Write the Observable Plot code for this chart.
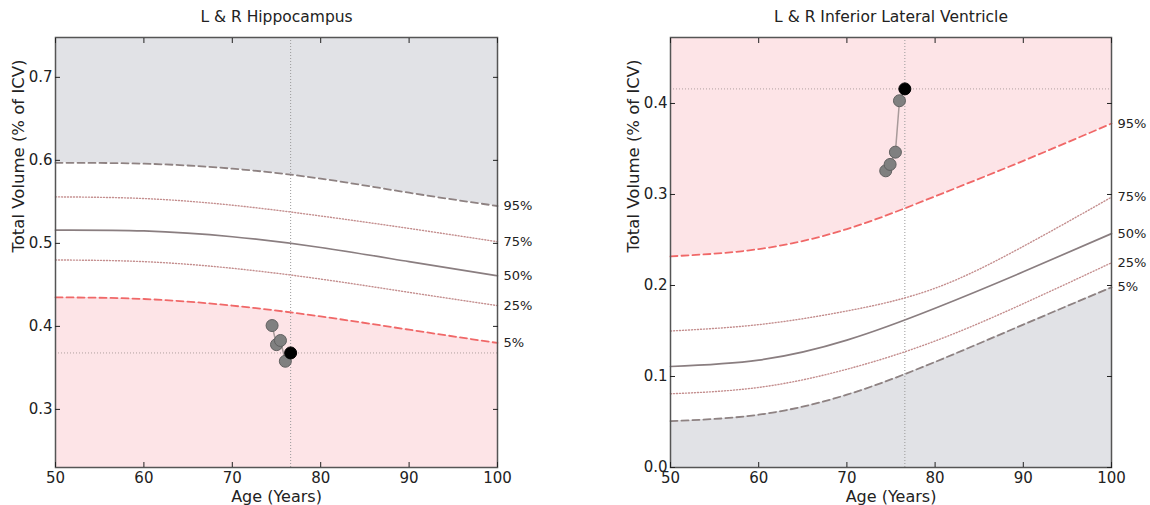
<!DOCTYPE html>
<html>
<head>
<meta charset="utf-8">
<script src="https://cdn.jsdelivr.net/npm/d3@7"></script>
<script src="https://cdn.jsdelivr.net/npm/@observablehq/plot@0.6"></script>
<style>
  html, body { margin: 0; padding: 0; background: #fff; }
  #wrap { position: relative; width: 1150px; height: 505px; overflow: hidden; font-family: "DejaVu Sans", sans-serif; }
  #wrap > div { position: absolute; top: 0; }
  #left { left: 0; }
  #right { left: 575px; }
</style>
</head>
<body>
<div id="wrap"><div id="left"></div><div id="right"></div></div>
<script>
// ---- data ----
const ages = [50, 60, 70, 80, 90, 100];
const xTicks = [50, 60, 70, 80, 90, 100];
const pctLabels = ["95%", "75%", "50%", "25%", "5%"];

// L & R Hippocampus percentile curves (% of ICV)
const hipP95 = [0.597, 0.596, 0.590, 0.578, 0.561, 0.545];
const hipP75 = [0.556, 0.554, 0.546, 0.533, 0.518, 0.502];
const hipP50 = [0.516, 0.515, 0.508, 0.495, 0.478, 0.461];
const hipP25 = [0.480, 0.478, 0.470, 0.457, 0.441, 0.425];
const hipP5  = [0.435, 0.433, 0.425, 0.412, 0.396, 0.380];
const hipYTicks = [0.3, 0.4, 0.5, 0.6, 0.7];
const hipDomain = [0.23, 0.748];
const hipAges = [74.5, 75.0, 75.45, 76.0, 76.6];
const hipVals = [0.401, 0.378, 0.383, 0.358, 0.368];

// L & R Inferior Lateral Ventricle percentile curves
const ilvP95 = [0.232, 0.240, 0.262, 0.298, 0.337, 0.378];
const ilvP75 = [0.150, 0.157, 0.172, 0.197, 0.243, 0.297];
const ilvP50 = [0.111, 0.118, 0.140, 0.175, 0.215, 0.257];
const ilvP25 = [0.081, 0.088, 0.108, 0.139, 0.180, 0.225];
const ilvP5  = [0.051, 0.058, 0.080, 0.116, 0.157, 0.198];
const ilvYTicks = [0.0, 0.1, 0.2, 0.3, 0.4];
const ilvDomain = [0, 0.4725];
const ilvAges = [74.4, 74.9, 75.5, 75.96, 76.57];
const ilvVals = [0.326, 0.333, 0.3465, 0.403, 0.416];

// ---- styles ----
const GRAY_FILL = "#e1e2e6";
const PINK_FILL = "#fde4e7";
const GRAY_LINE = "#8e8282";
const RED_LINE = "#f06868";
const DOT_LINE = "#c48e8e";
const CURVE = "natural";

function panel(opts) {
  const {title, p95, p75, p50, p25, p5, yTicks, domain, pAges, pVals, lowFill, highFill,
         highLine, lowLine, marginLeft, marginRight, yFmt} = opts;
  const rows = ages.map((a, i) => ({age: a, p95: p95[i], p75: p75[i], p50: p50[i], p25: p25[i], p5: p5[i]}));
  const pts = pAges.map((a, i) => ({age: a, v: pVals[i], last: i === pAges.length - 1}));
  const last = pts[pts.length - 1];
  const endRow = rows[rows.length - 1];
  const labelRows = [
    {t: pctLabels[0], v: endRow.p95},
    {t: pctLabels[1], v: endRow.p75},
    {t: pctLabels[2], v: endRow.p50},
    {t: pctLabels[3], v: endRow.p25},
    {t: pctLabels[4], v: endRow.p5}
  ];
  const [ymin, ymax] = domain;
  return Plot.plot({
    width: 575,
    height: 505,
    marginLeft, marginRight,
    marginTop: 37,
    marginBottom: 38,
    x: {domain: [50, 100]},
    y: {domain},
    style: {fontFamily: "DejaVu Sans, sans-serif", fontSize: "15px", color: "#222", background: "#fff"},
    marks: [
      Plot.areaY(rows, {x: "age", y1: "p95", y2: () => ymax, fill: highFill, curve: CURVE}),
      Plot.areaY(rows, {x: "age", y1: () => ymin, y2: "p5", fill: lowFill, curve: CURVE}),
      Plot.ruleX([last], {x: "age", stroke: "#999", strokeWidth: 1, strokeDasharray: "1,2"}),
      Plot.ruleY([last], {y: "v", stroke: "#b0a0a0", strokeWidth: 1, strokeDasharray: "1,2"}),
      Plot.line(rows, {x: "age", y: "p95", stroke: highLine, strokeWidth: 1.8, strokeDasharray: "7,4", curve: CURVE}),
      Plot.line(rows, {x: "age", y: "p5", stroke: lowLine, strokeWidth: 1.8, strokeDasharray: "7,4", curve: CURVE}),
      Plot.line(rows, {x: "age", y: "p75", stroke: DOT_LINE, strokeWidth: 1.4, strokeDasharray: "1,2", curve: CURVE}),
      Plot.line(rows, {x: "age", y: "p25", stroke: DOT_LINE, strokeWidth: 1.4, strokeDasharray: "1,2", curve: CURVE}),
      Plot.line(rows, {x: "age", y: "p50", stroke: "#8a7e80", strokeWidth: 1.7, curve: CURVE}),
      Plot.line(pts, {x: "age", y: "v", stroke: "#a89a9a", strokeWidth: 1.5}),
      Plot.dot(pts, {x: "age", y: "v", r: 6, fill: d => d.last ? "#000" : "#808080", stroke: d => d.last ? "#000" : "#606060", strokeWidth: 1}),
      Plot.frame({stroke: "#555", strokeWidth: 1.5}),
      Plot.axisX({anchor: "bottom", ticks: xTicks, tickSize: -5, tickPadding: 10, fontSize: 15, label: null}),
      Plot.axisX({anchor: "top", ticks: xTicks, tickSize: -5, tickFormat: () => "", label: null}),
      Plot.axisY({anchor: "left", ticks: yTicks, tickSize: -5, tickPadding: 8, fontSize: 15, tickFormat: yFmt, label: null}),
      Plot.axisY({anchor: "right", ticks: yTicks, tickSize: -5, tickFormat: () => "", label: null}),
      Plot.text(["Age (Years)"], {frameAnchor: "bottom", dy: 29, lineAnchor: "middle", text: d => d, fontSize: 16, fill: "#222"}),
      Plot.text(["Total Volume (% of ICV)"], {frameAnchor: "left", dx: -37, rotate: -90, text: d => d, fontSize: 16.5, fill: "#222"}),
      Plot.text(labelRows, {x: () => 100, y: "v", text: "t", dx: 6, textAnchor: "start", fontSize: 13, fill: "#222"}),
      Plot.text([title], {frameAnchor: "top", dy: -20, lineAnchor: "middle", text: d => d, fontSize: 15.5, fill: "#222"})
    ]
  });
}

const fmt = d => d3.format(".1f")(d);

document.getElementById("left").append(panel({
  title: "L & R Hippocampus",
  p95: hipP95, p75: hipP75, p50: hipP50, p25: hipP25, p5: hipP5,
  yTicks: hipYTicks, domain: hipDomain, pAges: hipAges, pVals: hipVals,
  highFill: GRAY_FILL, lowFill: PINK_FILL, highLine: GRAY_LINE, lowLine: RED_LINE,
  marginLeft: 55, marginRight: 78, yFmt: fmt
}));

document.getElementById("right").append(panel({
  title: "L & R Inferior Lateral Ventricle",
  p95: ilvP95, p75: ilvP75, p50: ilvP50, p25: ilvP25, p5: ilvP5,
  yTicks: ilvYTicks, domain: ilvDomain, pAges: ilvAges, pVals: ilvVals,
  highFill: PINK_FILL, lowFill: GRAY_FILL, highLine: RED_LINE, lowLine: GRAY_LINE,
  marginLeft: 95, marginRight: 39, yFmt: fmt
}));
</script>
</body>
</html>
